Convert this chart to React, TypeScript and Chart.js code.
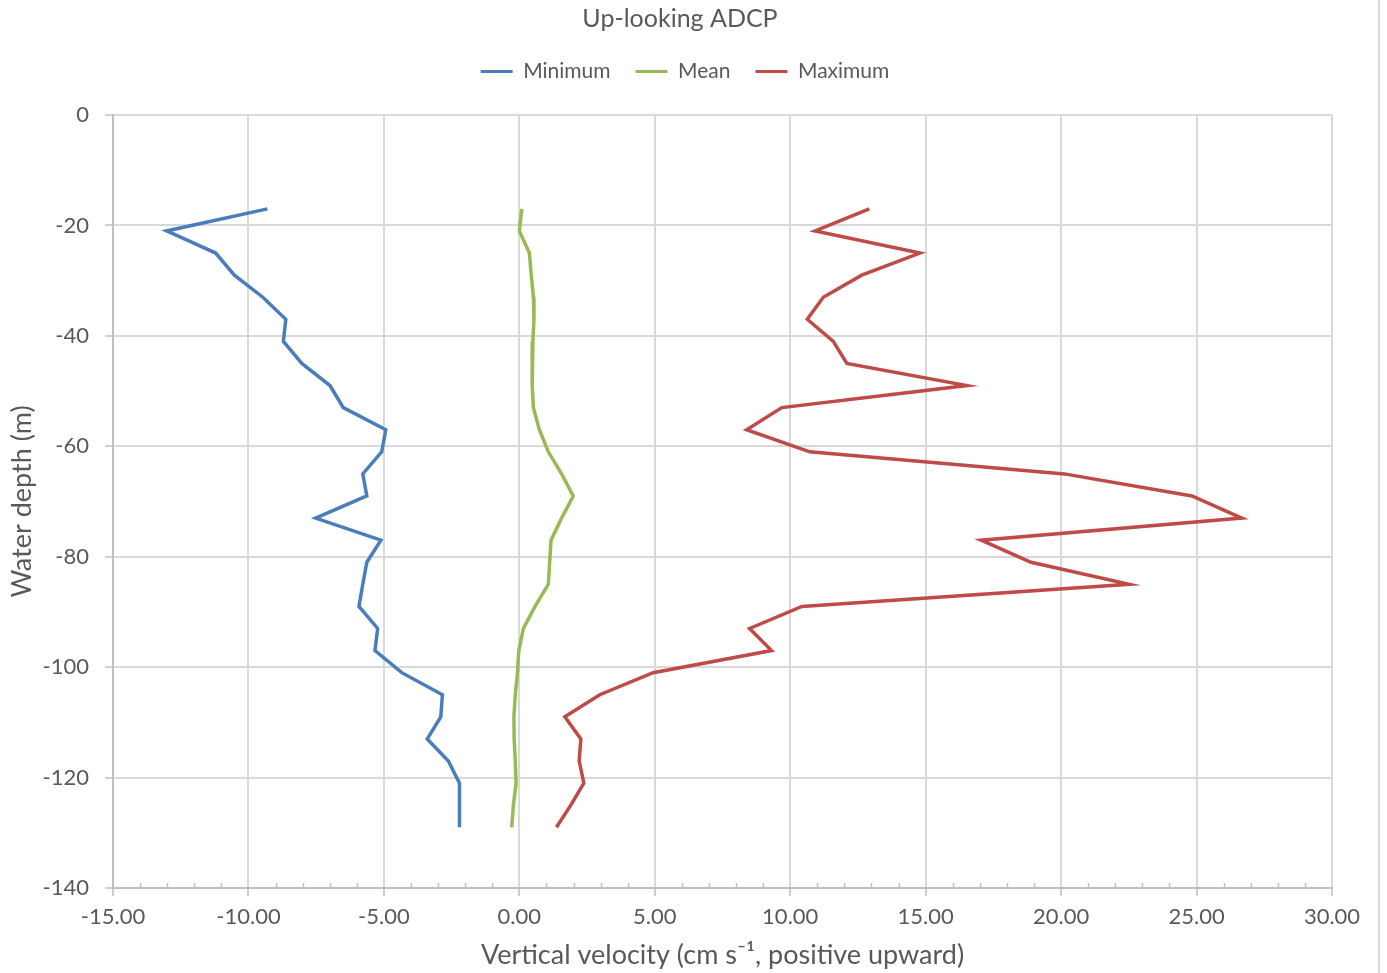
import React, { useEffect, useRef } from "react";
import { Chart, registerables } from "chart.js";

Chart.register(...registerables);

// Water depth (m) of each bin
const depths = [
  -17, -21, -25, -29, -33, -37, -41, -45, -49, -53, -57, -61, -65, -69, -73,
  -77, -81, -85, -89, -93, -97, -101, -105, -109, -113, -117, -121, -125, -129,
];

// Vertical velocity (cm/s)
const minimum = [
  -9.3, -13.02, -11.21, -10.52, -9.47, -8.62, -8.71, -8.03, -6.99, -6.5, -4.93,
  -5.08, -5.78, -5.63, -7.52, -5.11, -5.63, -5.78, -5.92, -5.23, -5.33, -4.34,
  -2.84, -2.9, -3.4, -2.62, -2.21, -2.21, -2.21,
];

const mean = [
  0.09, 0.0, 0.37, 0.44, 0.52, 0.54, 0.5, 0.47, 0.48, 0.52, 0.74, 1.07, 1.56,
  1.99, 1.56, 1.17, 1.12, 1.07, 0.58, 0.15, -0.02, -0.07, -0.15, -0.2, -0.19,
  -0.15, -0.12, -0.22, -0.28,
];

const maximum = [
  12.92, 10.92, 14.79, 12.64, 11.22, 10.63, 11.59, 12.09, 16.52, 9.69, 8.39,
  10.72, 20.12, 24.83, 26.67, 17.05, 18.89, 22.51, 10.43, 8.5, 9.31, 4.94, 2.97,
  1.68, 2.27, 2.21, 2.38, 1.9, 1.37,
];

const seriesNames = ["Minimum", "Mean", "Maximum"];
const seriesColors = ["#4A7EBB", "#98B954", "#BE4B48"];

const xMin = -15;
const xMax = 30;
const yMin = -140;
const yMax = 0;

const FONT = "Lato, 'Open Sans', sans-serif";
const TEXT = "#595959";

export default function App() {
  const ref = useRef<HTMLCanvasElement | null>(null);

  useEffect(() => {
    if (!ref.current) return;
    const series = [minimum, mean, maximum];
    const datasets = series.map((vals, i) => ({
      label: seriesNames[i],
      data: vals.map((v, j) => ({ x: v, y: depths[j] })),
      borderColor: seriesColors[i],
      backgroundColor: seriesColors[i],
      borderWidth: 3.5,
      pointRadius: 0,
      showLine: true,
      tension: 0,
      fill: false,
    }));

    const legendSpace = {
      id: "legendSpace",
      beforeInit(chart: any) {
        const lg = chart.legend;
        if (lg) {
          const orig = lg.fit;
          lg.fit = function () {
            orig.call(this);
            this.height += 23;
          };
        }
      },
      afterLayout(chart: any) {
        if (chart.titleBlock) {
          chart.titleBlock.left += 14;
          chart.titleBlock.right += 14;
        }
        if (chart.legend) {
          chart.legend.left += 19;
          chart.legend.right += 19;
        }
      },
    };

    const minorTicks = {
      id: "minorTicks",
      beforeDatasetsDraw(chart: any) {
        const { ctx } = chart;
        const xs = chart.scales.x;
        const bottom = chart.chartArea.bottom;
        ctx.save();
        ctx.strokeStyle = "#bfbfbf";
        ctx.lineWidth = 1.5;
        for (let v = xMin + 1; v < xMax; v += 1) {
          if (v % 5 === 0) continue;
          const px = Math.round(xs.getPixelForValue(v)) + 0.5;
          ctx.beginPath();
          ctx.moveTo(px, bottom - 5);
          ctx.lineTo(px, bottom);
          ctx.stroke();
        }
        ctx.restore();
      },
    };

    const chart = new Chart(ref.current, {
      type: "scatter",
      data: { datasets },
      plugins: [legendSpace, minorTicks],
      options: {
        animation: false,
        responsive: false,
        maintainAspectRatio: false,
        layout: { padding: { left: 0, right: 55, top: 0, bottom: 0 } },
        plugins: {
          title: {
            display: true,
            text: "Up-looking ADCP",
            color: TEXT,
            font: { family: FONT, size: 25, weight: "normal" },
            padding: { top: 4, bottom: 2 },
          },
          legend: {
            display: true,
            position: "top",
            labels: {
              color: TEXT,
              font: { family: FONT, size: 21 },
              boxWidth: 32,
              boxHeight: 3,
              padding: 25,
              generateLabels: (c: any) =>
                Chart.defaults.plugins.legend.labels
                  .generateLabels(c)
                  .map((l: any) => ({ ...l, lineWidth: 0 })),
            },
          },
          tooltip: { enabled: false },
        },
        scales: {
          x: {
            type: "linear",
            min: xMin,
            max: xMax,
            afterFit(scale: any) {
              scale.height = 85;
            },
            ticks: {
              stepSize: 5,
              color: TEXT,
              padding: 8,
              font: { family: FONT, size: 22 },
              callback: (v: any) => Number(v).toFixed(2),
              maxRotation: 0,
            },
            grid: {
              color: "#d9d9d9",
              lineWidth: 2,
              tickLength: 8,
              tickColor: "#bfbfbf",
              tickWidth: 1.5,
            },
            border: { color: "#bfbfbf", width: 2 },
            title: {
              display: true,
              text: "Vertical velocity (cm s\u207B\u00B9, positive upward)",
              color: TEXT,
              font: { family: FONT, size: 27 },
              padding: { top: 0, bottom: 2 },
            },
          },
          y: {
            type: "linear",
            min: yMin,
            max: yMax,
            afterFit(scale: any) {
              scale.width = 113;
            },
            ticks: {
              stepSize: 20,
              color: TEXT,
              padding: 16,
              font: { family: FONT, size: 22 },
            },
            grid: {
              color: "#d9d9d9",
              lineWidth: 2,
              tickLength: 8,
              tickColor: "#bfbfbf",
              tickWidth: 1.5,
            },
            border: { color: "#bfbfbf", width: 2 },
            title: {
              display: true,
              text: "Water depth (m)",
              color: TEXT,
              font: { family: FONT, size: 27 },
              padding: { top: 6, bottom: 0 },
            },
          },
        },
      } as any,
    });
    return () => chart.destroy();
  }, []);

  return (
    <div
      style={{
        position: "fixed",
        left: 0,
        top: 0,
        width: 1387,
        height: 973,
        background: "#ffffff",
      }}
    >
      <canvas ref={ref} width={1387} height={973} style={{ display: "block" }} />
      <div
        style={{
          position: "absolute",
          left: 1378,
          top: 0,
          width: 2,
          height: 973,
          background: "#d9d9d9",
        }}
      />
    </div>
  );
}
